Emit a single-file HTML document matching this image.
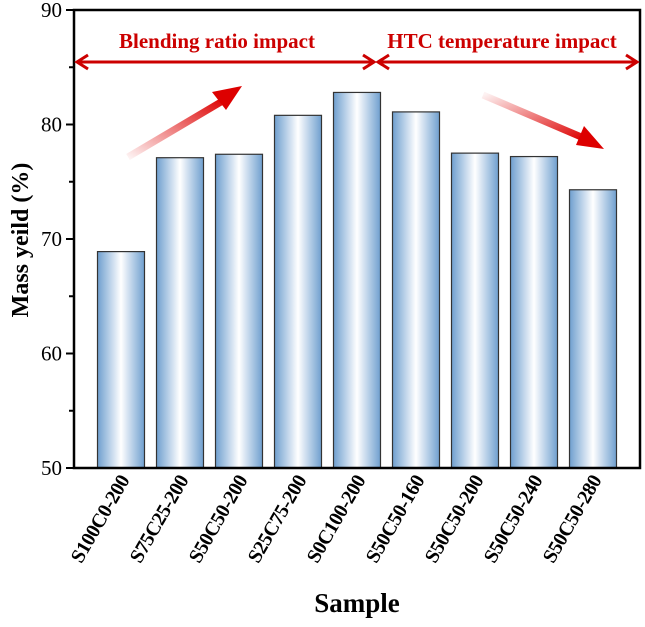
<!DOCTYPE html>
<html><head><meta charset="utf-8"><style>
body{margin:0;background:#fff}
svg text{font-family:"Liberation Serif",serif;font-weight:bold}
</style></head><body>
<svg width="645" height="622">
<defs>
<linearGradient id="bg" x1="0" x2="1" y1="0" y2="0">
<stop offset="0" stop-color="#6f9fcf"/><stop offset="0.5" stop-color="#ffffff"/><stop offset="1" stop-color="#6f9fcf"/>
</linearGradient>
<linearGradient id="a1" x1="0" y1="1" x2="1" y2="0"><stop offset="0" stop-color="#d00" stop-opacity="0.05"/><stop offset="1" stop-color="#d00"/></linearGradient>
<linearGradient id="a2" x1="0" y1="0" x2="1" y2="1"><stop offset="0" stop-color="#d00" stop-opacity="0.05"/><stop offset="1" stop-color="#d00"/></linearGradient>
</defs>
<g id="bars"></g>
<g id="axes"></g>
<rect x="74" y="10" width="566" height="458" fill="none" stroke="#000" stroke-width="2.5"/>
<g stroke="#c00" stroke-width="3" fill="none">
<line x1="77" y1="62" x2="374" y2="62"/><path d="M88,55 L77,62 L88,69"/><path d="M363,55 L374,62 L363,69"/></g>
<g stroke="#c00" stroke-width="3" fill="none">
<line x1="378" y1="62" x2="637" y2="62"/><path d="M389,55 L378,62 L389,69"/><path d="M626,55 L637,62 L626,69"/></g>
<text x="217" y="48" font-size="21" fill="#c00" text-anchor="middle">Blending ratio impact</text>
<text x="502" y="48" font-size="21" fill="#c00" text-anchor="middle">HTC temperature impact</text>
<g><line x1="128" y1="157" x2="226" y2="99" stroke="url(#a1)" stroke-width="7"/><polygon points="242,86 212,92 226,110" fill="#d00"/></g>
<g><line x1="483" y1="95" x2="586" y2="139" stroke="url(#a2)" stroke-width="7"/><polygon points="604,149 584,126 576,145" fill="#d00"/></g>
<text transform="translate(28,240) rotate(-90)" font-size="24" text-anchor="middle">Mass yeild (%)</text>
<text x="357" y="612" font-size="27" text-anchor="middle">Sample</text>
</svg>
<script>
const categories=["S100C0-200","S75C25-200","S50C50-200","S25C75-200","S0C100-200","S50C50-160","S50C50-200","S50C50-240","S50C50-280"];
const values=[68.9,77.1,77.4,80.8,82.8,81.1,77.5,77.2,74.3];
const yTicks=[50,60,70,80,90];
const NS="http://www.w3.org/2000/svg";
const y=v=>468-(v-50)*11.45;
const x=i=>121+i*59;
const bars=document.getElementById('bars'),axes=document.getElementById('axes');
function mk(t,a,p){const e=document.createElementNS(NS,t);for(const k in a)e.setAttribute(k,a[k]);p.appendChild(e);return e;}
values.forEach((v,i)=>{
 const r=mk('rect',{x:x(i)-23.5,y:y(v),width:47,height:468-y(v),fill:'url(#bg)',stroke:'#333','stroke-width':1.2},bars);
 
 
 const t=mk('text',{transform:`translate(${x(i)+9},480) rotate(-60)`,'font-size':20,'text-anchor':'end','letter-spacing':'-0.5'},axes);
 t.textContent=categories[i];
 
 
});
for(let v=50;v<=90;v+=5){mk('line',{x1:74,x2:v%10?69:66,y1:y(v),y2:y(v),stroke:'#000','stroke-width':2},axes);}
yTicks.forEach(v=>{
 const t=mk('text',{x:62,y:y(v)+7,'font-size':21,'text-anchor':'end'},axes);
 t.style.fontWeight='normal';
 t.textContent=v;
 
 
});
</script>
</body></html>
